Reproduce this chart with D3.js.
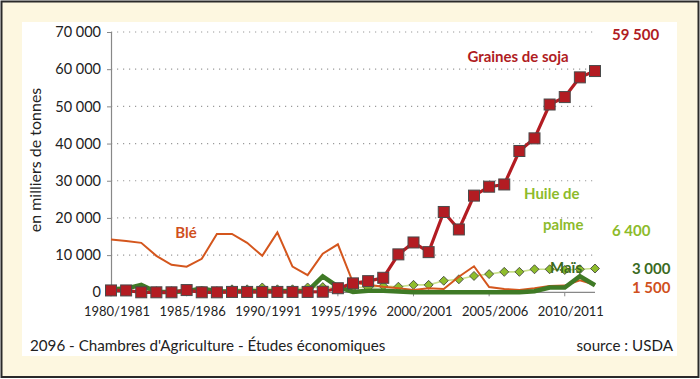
<!DOCTYPE html>
<html><head><meta charset="utf-8">
<script src="https://cdn.jsdelivr.net/npm/d3@7"></script>
<style>
body{margin:0;padding:0;background:#fff;}
svg{display:block;font-family:Lato, "Open Sans", sans-serif;}
</style></head>
<body>
<svg id="c" width="700" height="379"></svg>
<script>
// ---- data ----
const seasons = ["1980/1981","1981/1982","1982/1983","1983/1984","1984/1985","1985/1986","1986/1987","1987/1988","1988/1989","1989/1990","1990/1991","1991/1992","1992/1993","1993/1994","1994/1995","1995/1996","1996/1997","1997/1998","1998/1999","1999/2000","2000/2001","2001/2002","2002/2003","2003/2004","2004/2005","2005/2006","2006/2007","2007/2008","2008/2009","2009/2010","2010/2011","2011/2012","2012/2013"];
const tickLabels = ["1980/1981","1985/1986","1990/1991","1995/1996","2000/2001","2005/2006","2010/2011"];
const yTicks = [0,10000,20000,30000,40000,50000,60000,70000];
const soja  = [500,500,0,0,0,600,0,0,100,100,100,100,100,100,150,1100,2400,3000,3900,10200,13400,10800,21600,16900,26000,28400,29000,38000,41400,50500,52500,57800,59500];
const ble   = [14200,13800,13300,9800,7400,6900,9000,15700,15700,13300,9800,16100,6900,4600,10400,12900,2600,2000,1500,1100,600,1100,900,4200,7000,1400,900,600,1100,1700,1800,3200,2000];
const mais  = [800,1000,2000,100,100,300,1000,300,200,300,300,300,300,300,4300,1500,100,400,400,200,0,0,0,0,0,0,0,0,300,1300,1300,4300,1900];
const palme = [200,300,300,300,300,300,300,300,800,800,1300,800,800,1300,1400,1200,1350,1250,1700,1500,2000,2000,3100,3500,4400,4900,5500,5500,6200,6200,6000,6200,6400];
const endLabels = [
  {text:"59 500", color:"#b01c22"},
  {text:"6 400", color:"#8dbb2b"},
  {text:"3 000", color:"#3b6b1f"},
  {text:"1 500", color:"#d0501c"}
];

const svg = d3.select("#c");
// frame
svg.append("rect").attr("x",1.5).attr("y",1.5).attr("width",697).attr("height",375.5)
  .attr("fill","#fdf7e0").attr("stroke","#2a2a2a").attr("stroke-width",2);
svg.append("rect").attr("x",22).attr("y",22).attr("width",655).attr("height",334).attr("fill","#ffffff");

const x = d3.scaleLinear().domain([0, seasons.length-1]).range([111, 595]);
const y = d3.scaleLinear().domain([0,70000]).range([292.3, 32]);

// grid
svg.append("g").selectAll("line").data(yTicks.filter(d=>d>0)).join("line")
  .attr("x1",111).attr("x2",595).attr("y1",d=>y(d)).attr("y2",d=>y(d))
  .attr("stroke","#9a9a9a").attr("stroke-width",1.2).attr("stroke-dasharray","1.2,4.8");

// y axis
const yAxis = d3.axisLeft(y).tickValues(yTicks).tickSize(4).tickPadding(6)
  .tickFormat(d=> d===0 ? "0" : d3.format(",")(d).replace(/,/g," "));
const gy = svg.append("g").attr("transform","translate(111,0)").call(yAxis);
gy.select(".domain").attr("stroke","#888").attr("stroke-width",1.2);
gy.selectAll(".tick line").attr("stroke","#888");
gy.selectAll("text").attr("font-size",14.5).attr("fill","#222").attr("font-family","Lato");

// x axis baseline
svg.append("line").attr("x1",111).attr("x2",595).attr("y1",y(0)).attr("y2",y(0)).attr("stroke","#888").attr("stroke-width",1.2);
const tickIdx = tickLabels.map(t=>seasons.indexOf(t));
svg.append("g").selectAll("line").data(tickIdx).join("line")
  .attr("x1",d=>x(d)).attr("x2",d=>x(d)).attr("y1",y(0)).attr("y2",y(0)+4).attr("stroke","#888");
svg.append("g").selectAll("text").data(tickIdx).join("text")
  .attr("x",d=>x(d)+6).attr("y",316).attr("text-anchor","middle")
  .attr("font-size",13).attr("fill","#222").text(d=>seasons[d]);

// axis title
svg.append("text").attr("transform","translate(41,160) rotate(-90)").attr("text-anchor","middle")
  .attr("font-size",16).attr("fill","#222").text("en milliers de tonnes");

const line = d3.line().x((d,i)=>x(i)).y(d=>y(d));

// palm oil
svg.append("path").datum(palme).attr("d",line).attr("fill","none").attr("stroke","#c9e08c").attr("stroke-width",1.6);
svg.append("g").selectAll("path").data(palme).join("path")
  .attr("transform",(d,i)=>`translate(${x(i)},${y(d)})`)
  .attr("d","M0,-4.5L4.5,0L0,4.5L-4.5,0Z").attr("fill","#8fbd2c").attr("stroke","#3a3a3a").attr("stroke-width",0.8);
// wheat
svg.append("path").datum(ble).attr("d",line).attr("fill","none").attr("stroke","#d4561d").attr("stroke-width",2);
// maize
svg.append("path").datum(mais).attr("d",line).attr("fill","none").attr("stroke","#3f7a26").attr("stroke-width",4.5).attr("stroke-linejoin","miter");
// soy
svg.append("path").datum(soja).attr("d",line).attr("fill","none").attr("stroke","#b31c22").attr("stroke-width",3.2);
svg.append("g").selectAll("rect").data(soja).join("rect")
  .attr("x",(d,i)=>x(i)-5.5).attr("y",d=>y(d)-5.5).attr("width",11).attr("height",11)
  .attr("fill","#b31c22").attr("stroke","#4a4a4a").attr("stroke-width",1);

// series labels
const lbl = (t,xx,yy,c,a)=>svg.append("text").attr("x",xx).attr("y",yy).attr("text-anchor",a||"middle")
  .attr("font-size",15).attr("font-weight","bold").attr("fill",c).text(t);
lbl("Graines de soja",518,62,"#b01c22");
lbl("Huile de",524,199,"#8dbb2b","start");
lbl("palme",543,230,"#8dbb2b","start");
lbl("Maïs",566,273,"#3b6b1f");
lbl("Blé",186,238,"#d0501c");
lbl(endLabels[0].text,612,40,endLabels[0].color,"start");
lbl(endLabels[1].text,612,236,endLabels[1].color,"start");
lbl(endLabels[2].text,632,274,endLabels[2].color,"start");
lbl(endLabels[3].text,632,293,endLabels[3].color,"start");

// footer
svg.append("text").attr("x",30).attr("y",351).attr("font-size",15.2).attr("fill","#222")
  .text("2096 - Chambres d'Agriculture - Études économiques");
svg.append("text").attr("x",673).attr("y",351).attr("text-anchor","end").attr("font-size",15.2).attr("fill","#222")
  .text("source : USDA");
</script>
</body></html>
